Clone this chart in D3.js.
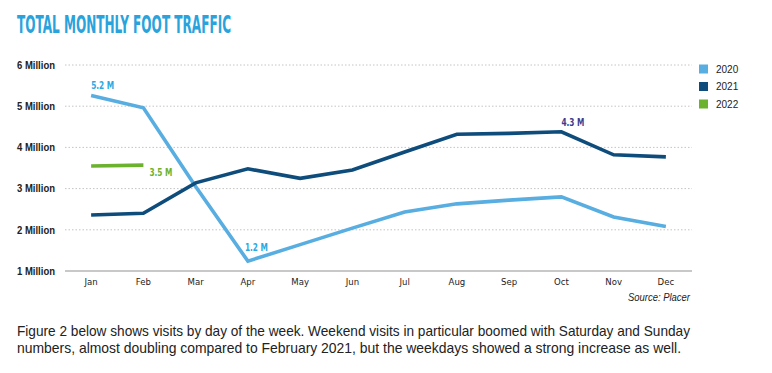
<!DOCTYPE html>
<html><head><meta charset="utf-8">
<script src="https://cdn.jsdelivr.net/npm/d3@7"></script>
<style>body{margin:0;background:#fff;} svg{display:block;}</style>
</head><body>
<svg id="c" width="772" height="373"></svg>
<script>
const months = ["Jan","Feb","Mar","Apr","May","Jun","Jul","Aug","Sep","Oct","Nov","Dec"];
const v2020 = [5.26,4.96,3.05,1.24,1.64,2.04,2.43,2.63,2.72,2.80,2.31,2.08];
const v2021 = [2.36,2.40,3.14,3.48,3.25,3.45,3.89,4.32,4.34,4.38,3.82,3.77];
const v2022 = [3.55,3.57];
const yTicks = [1,2,3,4,5,6];
const yTickLabels = ["1 Million","2 Million","3 Million","4 Million","5 Million","6 Million"];
const seriesNames = ["2020","2021","2022"];
const colors = ["#58ade1","#0e4c7c","#6cb22f"];

const svg = d3.select("#c");
const x = d3.scaleBand().domain(months).range([65,692]);
const y = d3.scaleLinear().domain([1,6]).range([271,65]);
const cx = m => x(m) + x.bandwidth()/2;

const cond = "'DejaVu Sans Condensed','Arial Narrow',sans-serif";
const sans = "'Liberation Sans',Arial,sans-serif";

// title
svg.append("text").attr("x",17).attr("y",32.5).text("TOTAL MONTHLY FOOT TRAFFIC")
  .attr("font-family",cond).attr("font-weight","bold").attr("font-size",24.5)
  .attr("fill","#2aa3dc").attr("textLength",214).attr("lengthAdjust","spacingAndGlyphs");

// gridlines
yTicks.forEach((t,i)=>{
  svg.append("line").attr("x1",65).attr("x2",692).attr("y1",y(t)).attr("y2",y(t))
    .attr("stroke", t===1 ? "#c8c8c8" : "#c4c4c4")
    .attr("stroke-width", t===1 ? 2 : 1)
    .attr("stroke-dasharray", t===1 ? null : "1.5,2");
});

// y labels
const yAxis = d3.axisLeft(y).tickValues(yTicks).tickFormat((d,i)=>yTickLabels[i]).tickSize(0).tickPadding(0);
const ya = svg.append("g").attr("transform","translate(55,0)").call(yAxis);
ya.select(".domain").remove();
ya.selectAll("text").attr("font-family",sans).attr("font-weight","bold").attr("font-size",10.5).attr("fill","#222")
  .attr("textLength",38).attr("lengthAdjust","spacingAndGlyphs");

// x labels
const xAxis = d3.axisBottom(x).tickSize(0).tickPadding(0);
const xa = svg.append("g").attr("transform","translate(0,276)").call(xAxis);
xa.select(".domain").remove();
xa.selectAll("text").attr("font-family",cond).attr("font-size",9.5).attr("fill","#222").attr("dy","0.9em");

// lines
const line = d3.line().x((d,i)=>cx(months[i])).y(d=>y(d));
[v2020,v2021,v2022].forEach((vals,i)=>{
  svg.append("path").datum(vals).attr("d",line).attr("fill","none")
    .attr("stroke",colors[i]).attr("stroke-width",3.6).attr("stroke-linejoin","miter");
});

// annotations
const ann = [
  {t:"5.2 M", xm:"Jan", dx:0, v:v2020[0], dy:-10, c:"#2aa9e3"},
  {t:"1.2 M", xm:"Apr", dx:-3, v:v2020[3], dy:-14, c:"#2aa9e3"},
  {t:"4.3 M", xm:"Oct", dx:0, v:v2021[9], dy:-10, c:"#3a3d8e"},
  {t:"3.5 M", xm:"Feb", dx:6, v:v2022[1], dy:7, c:"#6cb22f"}
];
ann.forEach(a=>{
  svg.append("text").attr("x",cx(a.xm)+a.dx).attr("y",y(a.v)+a.dy).attr("dy","0.35em")
    .attr("text-anchor","start").text(a.t)
    .attr("font-family",cond).attr("font-weight","bold").attr("font-size",11).attr("fill",a.c)
    .attr("textLength",23).attr("lengthAdjust","spacingAndGlyphs");
});

// legend
seriesNames.forEach((s,i)=>{
  const ly = 69 + i*17.5;
  svg.append("rect").attr("x",699).attr("y",ly-4.5).attr("width",9).attr("height",9).attr("fill",colors[i]);
  svg.append("text").attr("x",716).attr("y",ly).attr("dy","0.35em").text(s)
    .attr("font-family",sans).attr("font-size",10).attr("fill","#222");
});

// source
svg.append("text").attr("x",690).attr("y",301).attr("text-anchor","end").text("Source: Placer")
  .attr("font-family",sans).attr("font-style","italic").attr("font-size",10.5).attr("fill","#222")
  .attr("textLength",62).attr("lengthAdjust","spacingAndGlyphs");

// paragraph
const para = ["Figure 2 below shows visits by day of the week. Weekend visits in particular boomed with Saturday and Sunday",
  "numbers, almost doubling compared to February 2021, but the weekdays showed a strong increase as well."];
const paraW = [673, 664];
para.forEach((p,i)=>{
  svg.append("text").attr("x",17).attr("y",336+i*17).text(p)
    .attr("font-family",sans).attr("font-size",14.5).attr("fill","#222")
    .attr("textLength",paraW[i]).attr("lengthAdjust","spacingAndGlyphs");
});
</script>
</body></html>
